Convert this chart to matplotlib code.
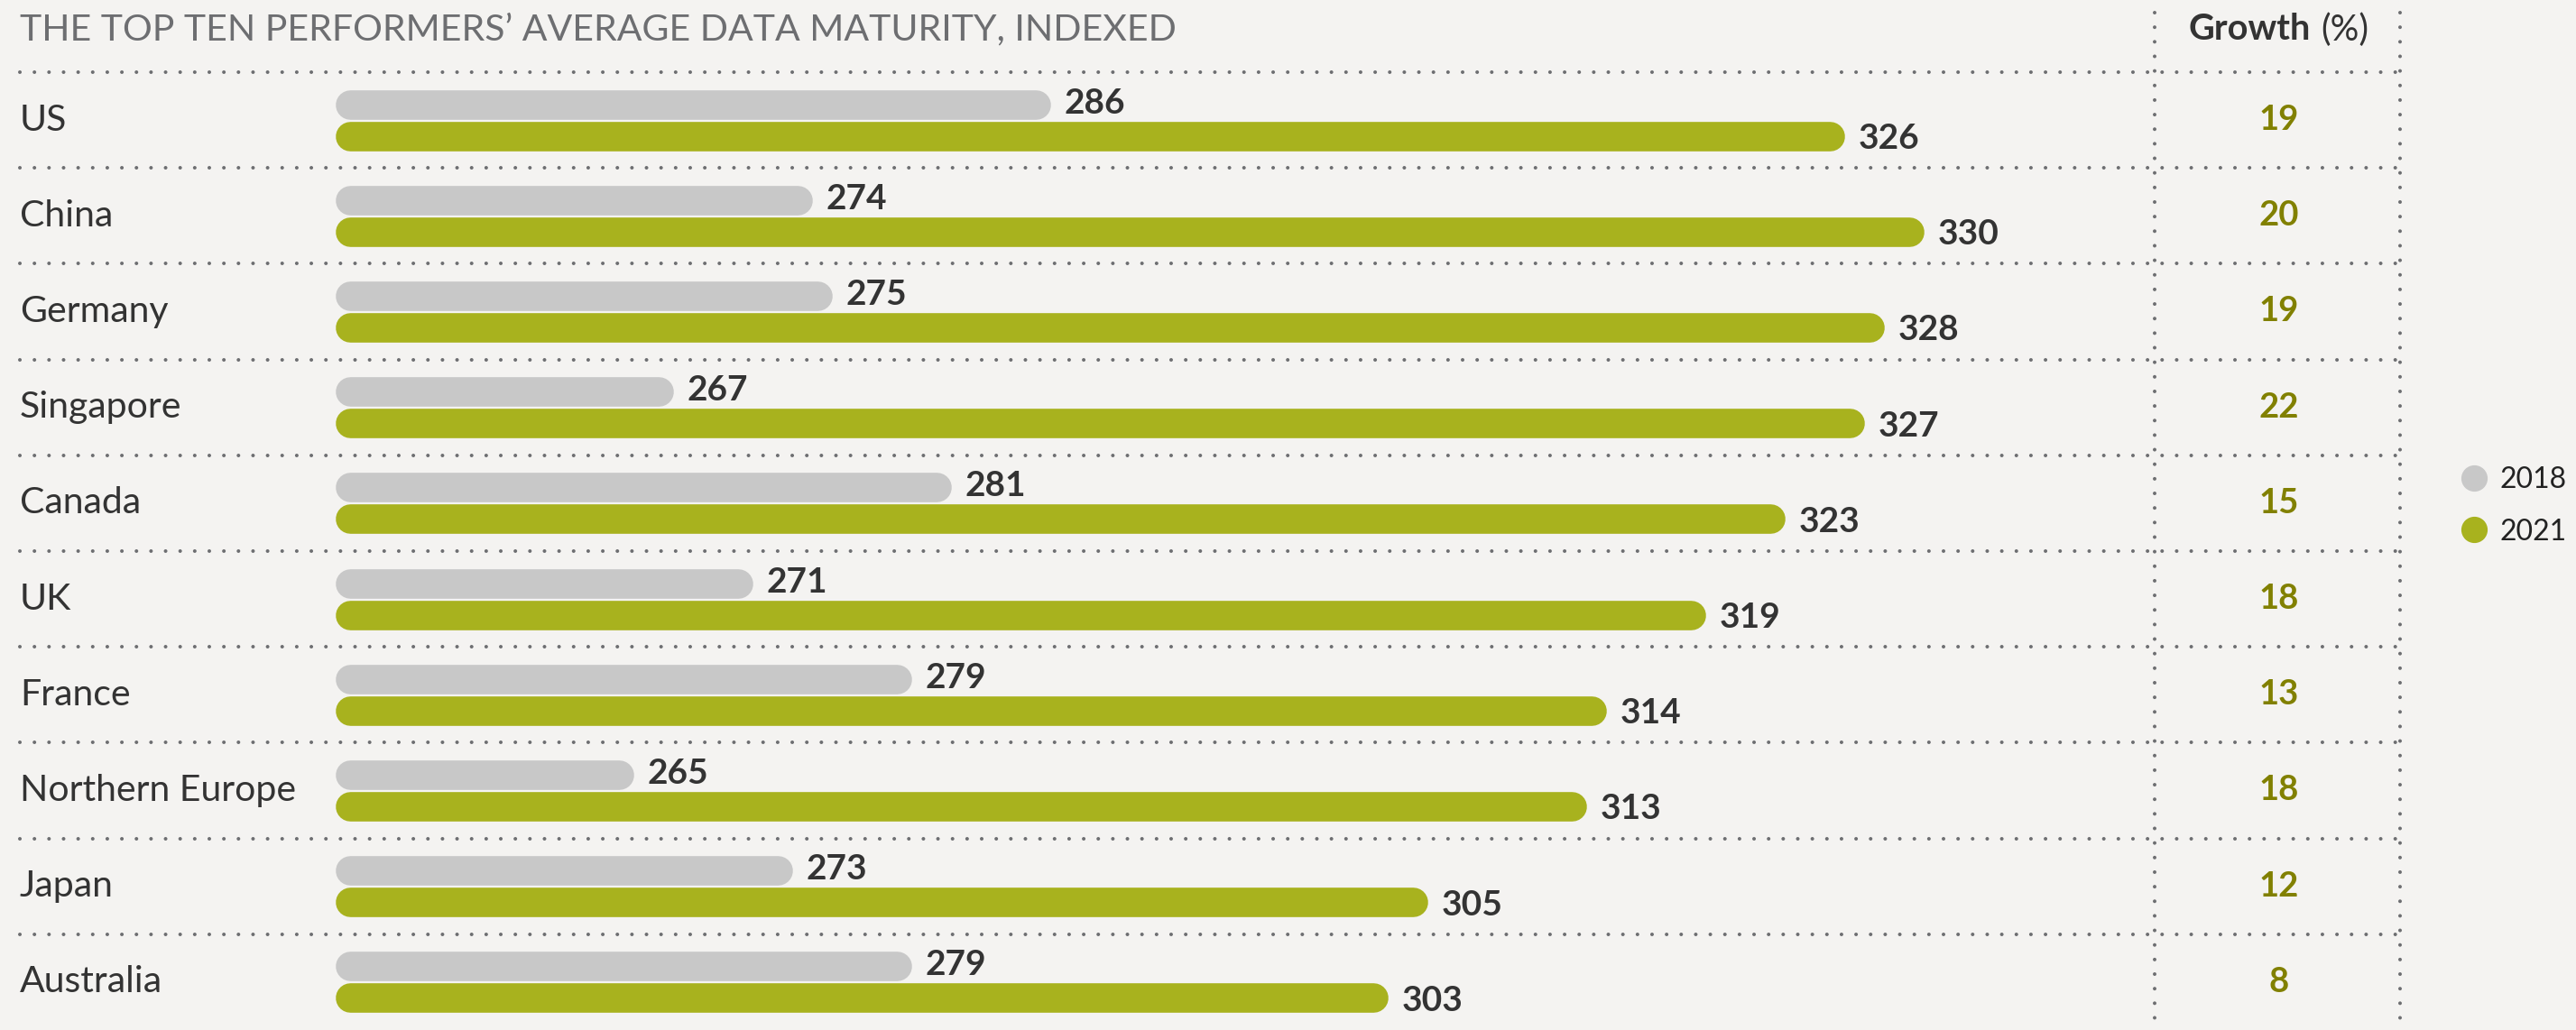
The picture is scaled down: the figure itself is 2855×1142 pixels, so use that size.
import matplotlib
matplotlib.use("Agg")
import matplotlib.pyplot as plt
from matplotlib.lines import Line2D
from matplotlib.transforms import blended_transform_factory

plt.rcParams["font.family"] = ["Lato", "DejaVu Sans"]

# ---- data -------------------------------------------------------------
countries = ["US", "China", "Germany", "Singapore", "Canada", "UK", "France",
             "Northern Europe", "Japan", "Australia"]
score_2018 = [286, 274, 275, 267, 281, 271, 279, 265, 273, 279]
score_2021 = [326, 330, 328, 327, 323, 319, 314, 313, 305, 303]
growth_pct = [19, 20, 19, 22, 15, 18, 13, 18, 12, 8]
title = "THE TOP TEN PERFORMERS\u2019 AVERAGE DATA MATURITY, INDEXED"

# ---- style ------------------------------------------------------------
BG = "#f4f3f1"
GREY_BAR = "#c8c8c8"
GREEN_BAR = "#a8b21e"
GREEN_TXT = "#818000"
DARK = "#333333"
DOTS = "#6d6e71"

W, H = 2855, 1142
BASE = 250                      # index value where the bars start
PX_PER_UNIT = 22.0
X0 = 372                        # pixel where the bars start
ROW_TOP = 80                    # first dotted separator (px from top)


def fx(px):
    return px / W


def fy(px):
    return 1 - px / H


fig = plt.figure(figsize=(W / 100, H / 100), dpi=100, facecolor=BG)
ax = fig.add_axes([0, 0, 1, fy(ROW_TOP)])
ax.set_facecolor(BG)
ax.set_xlim(BASE - X0 / PX_PER_UNIT, BASE + (W - X0) / PX_PER_UNIT)
ax.set_ylim(len(countries) - 0.5, -0.5)
ax.axis("off")

to_fig_x = blended_transform_factory(fig.transFigure, ax.transData)

bar_lw = 23.5                    # points
cap = (bar_lw / 72 * 100 / 2) / PX_PER_UNIT   # round cap radius, data units
off = 0.165
for i, (a, b) in enumerate(zip(score_2018, score_2021)):
    ax.plot([BASE + cap, a - cap], [i - off, i - off], color=GREY_BAR,
            lw=bar_lw, solid_capstyle="round")
    ax.plot([BASE + cap, b - cap], [i + off, i + off], color=GREEN_BAR,
            lw=bar_lw, solid_capstyle="round")
    ax.annotate(str(a), (a, i - off), xytext=(11, 1), textcoords="offset points",
                ha="left", va="center", fontsize=28, fontweight="bold", color=DARK)
    ax.annotate(str(b), (b, i + off), xytext=(11, -2), textcoords="offset points",
                ha="left", va="center", fontsize=28, fontweight="bold", color=DARK)
    ax.text(fx(22), i, countries[i], transform=to_fig_x, ha="left",
            va="center", fontsize=29.5, color=DARK)
    ax.text(fx(2526), i, str(growth_pct[i]), transform=to_fig_x, ha="center",
            va="center", fontsize=27.5, fontweight="bold", color=GREEN_TXT)

# dotted separators
dots = (0, (0.01, 4.0))
for i in range(len(countries)):
    ax.plot([fx(22), fx(2660)], [i - 0.5, i - 0.5], transform=to_fig_x,
            color=DOTS, lw=2.9, ls=dots, dash_capstyle="round",
            solid_capstyle="round", clip_on=False)
for xp in (2388, 2660):
    fig.add_artist(Line2D([fx(xp), fx(xp)], [fy(14), fy(H)], color=DOTS,
                          lw=2.9, ls=dots, dash_capstyle="round"))

# header texts
fig.text(fx(22), fy(33), title, ha="left", va="center", fontsize=29.5,
         color=DOTS)
fig.text(fx(2561), fy(33), "Growth", ha="right", va="center", fontsize=28.5,
         fontweight="bold", color=DARK)
fig.text(fx(2572), fy(33), "(%)", ha="left", va="center", fontsize=28.5,
         color=DARK)

# legend
handles = [Line2D([], [], ls="", marker="o", ms=20, color=GREY_BAR),
           Line2D([], [], ls="", marker="o", ms=20, color=GREEN_BAR)]
fig.legend(handles, ["2018", "2021"], loc="center left",
           bbox_to_anchor=(fx(2726), fy(561)), frameon=False, fontsize=23,
           handlelength=1.0, handletextpad=0.4, labelspacing=0.85,
           labelcolor="#222222", borderpad=0, borderaxespad=0)

fig.savefig("out.png", dpi=100, facecolor=BG)
